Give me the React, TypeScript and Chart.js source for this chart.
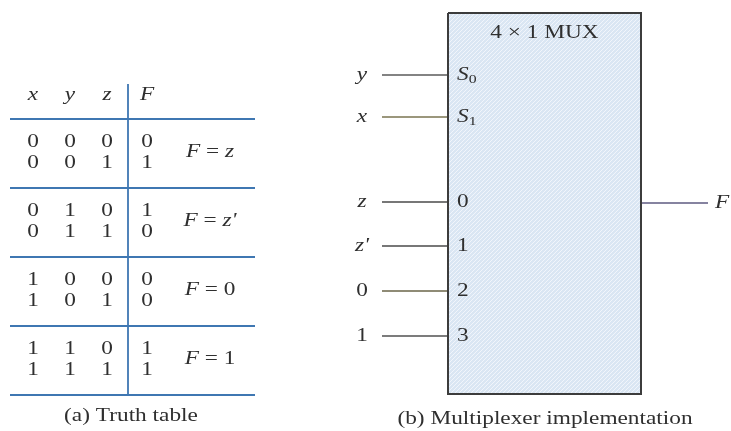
import React, { useEffect, useRef } from "react";
import { Chart, registerables } from "chart.js";

Chart.register(...registerables);

// ---- content ----
const tableHeaders = ["x", "y", "z", "F"];
const truthRows = [
  [0, 0, 0, 0],
  [0, 0, 1, 1],
  [0, 1, 0, 1],
  [0, 1, 1, 0],
  [1, 0, 0, 0],
  [1, 0, 1, 0],
  [1, 1, 0, 1],
  [1, 1, 1, 1],
];
const groupFunctions = ["z", "z'", "0", "1"];
const muxTitle = "4 × 1 MUX";
const selectSignals = ["y", "x"];
const selectPins = ["S0", "S1"];
const dataSignals = ["z", "z'", "0", "1"];
const dataPins = ["0", "1", "2", "3"];
const outputSignal = "F";
const captions = ["(a) Truth table", "(b) Multiplexer implementation"];

// ---- layout (diagram units) ----
const W = 731;
const H = 431;
const colX = [33, 70, 107, 147];
const headerY = 95;
const rowY0 = 142;
const rowGap = 21;
const groupGap = 69;
const hLineY0 = 119;
const hLineX = [10, 255];
const vLineX = 128;
const vLineTop = 84;
const funcX = 210;
const capA = [131, 416];
const box = { x0: 448, x1: 641, y0: 13, y1: 394 };
const titleY = 33;
const selY = [75, 117];
const dataY = [202, 246, 291, 336];
const wireX0 = 382;
const sigX = 362;
const pinX = 457;
const outY = 203;
const outX1 = 708;
const outLabelX = 722;
const capB = [545, 419];

const SX = 1.26;
const BASE = 18.5;
const TEXT = "#2f2f2f";
const BLUE = "#3f77b2";

type Seg = { t: string; it?: boolean; sz?: number; dy?: number };

function fontOf(s: Seg, base: number) {
  return `${s.it ? "italic " : ""}${s.sz ?? base}px "Liberation Serif", "Times New Roman", serif`;
}

function drawRich(
  ctx: CanvasRenderingContext2D,
  segs: Seg[],
  x: number,
  y: number,
  align: "left" | "center" | "right",
  base = BASE
) {
  let w = 0;
  for (const s of segs) {
    ctx.font = fontOf(s, base);
    w += ctx.measureText(s.t).width;
  }
  ctx.save();
  ctx.translate(x, y);
  ctx.scale(SX, 1);
  ctx.textBaseline = "middle";
  ctx.textAlign = "left";
  ctx.fillStyle = TEXT;
  let cx = align === "center" ? -w / 2 : align === "right" ? -w : 0;
  for (const s of segs) {
    ctx.font = fontOf(s, base);
    ctx.fillText(s.t, cx, s.dy ?? 0);
    cx += ctx.measureText(s.t).width;
  }
  ctx.restore();
}

function symSegs(label: string): Seg[] {
  if (/^S\d$/.test(label)) return [{ t: "S", it: true }, { t: label.slice(1), sz: 12.5, dy: 5 }];
  return label.split("").map((c) => ({ t: c, it: /[A-Za-z']/.test(c) }));
}

function seg(x0: number, y0: number, x1: number, y1: number) {
  return [
    { x: x0, y: y0 },
    { x: x1, y: y1 },
  ];
}

const textPlugin = {
  id: "diagramText",
  afterDatasetsDraw(chart: any) {
    const ctx = chart.ctx as CanvasRenderingContext2D;
    const xs = chart.scales.x;
    const ys = chart.scales.y;
    const px = (v: number) => xs.getPixelForValue(v);
    const py = (v: number) => ys.getPixelForValue(v);

    tableHeaders.forEach((h, i) => drawRich(ctx, symSegs(h), px(colX[i]), py(headerY), "center"));
    truthRows.forEach((row, r) => {
      const g = Math.floor(r / 2);
      const y = rowY0 + g * groupGap + (r % 2) * rowGap;
      row.forEach((v, i) => drawRich(ctx, [{ t: String(v) }], px(colX[i]), py(y), "center"));
    });
    groupFunctions.forEach((f, g) => {
      const y = rowY0 + g * groupGap + rowGap / 2;
      drawRich(ctx, [{ t: "F", it: true }, { t: " = " }, ...symSegs(f)], px(funcX), py(y), "center");
    });
    drawRich(ctx, [{ t: captions[0] }], px(capA[0]), py(capA[1]), "center");

    drawRich(ctx, [{ t: muxTitle }], px((box.x0 + box.x1) / 2), py(titleY), "center");
    selectSignals.forEach((s, i) => {
      drawRich(ctx, symSegs(s), px(sigX), py(selY[i]), "center");
      drawRich(ctx, symSegs(selectPins[i]), px(pinX), py(selY[i]), "left");
    });
    dataSignals.forEach((s, i) => {
      drawRich(ctx, symSegs(s), px(sigX), py(dataY[i]), "center");
      drawRich(ctx, [{ t: dataPins[i] }], px(pinX), py(dataY[i]), "left");
    });
    drawRich(ctx, symSegs(outputSignal), px(outLabelX), py(outY), "center");
    drawRich(ctx, [{ t: captions[1] }], px(capB[0]), py(capB[1]), "center");
  },
};

function makePattern(): CanvasPattern | string {
  const c = document.createElement("canvas");
  c.width = 4;
  c.height = 4;
  const g = c.getContext("2d");
  if (!g) return "#e2ebf6";
  g.fillStyle = "#dae6f3";
  g.fillRect(0, 0, 4, 4);
  g.strokeStyle = "#f1f5fb";
  g.lineWidth = 1;
  g.beginPath();
  g.moveTo(0, 4);
  g.lineTo(4, 0);
  g.moveTo(-1, 1);
  g.lineTo(1, -1);
  g.moveTo(3, 5);
  g.lineTo(5, 3);
  g.stroke();
  const p = g.createPattern(c, "repeat");
  return p ?? "#e2ebf6";
}

export default function App() {
  const ref = useRef<HTMLCanvasElement | null>(null);

  useEffect(() => {
    if (!ref.current) return;
    const line = (data: any[], color: string, width = 1.6, order = 1) => ({
      data,
      showLine: true,
      borderColor: color,
      borderWidth: width,
      pointRadius: 0,
      fill: false,
      order,
    });

    const datasets: any[] = [];
    datasets.push({
      data: seg(box.x0, box.y0, box.x1, box.y0),
      showLine: true,
      borderWidth: 0,
      borderColor: "rgba(0,0,0,0)",
      pointRadius: 0,
      fill: { value: box.y1 },
      backgroundColor: makePattern(),
      order: 10,
    });
    datasets.push(
      line(
        [
          { x: box.x0, y: box.y0 },
          { x: box.x1, y: box.y0 },
          { x: box.x1, y: box.y1 },
          { x: box.x0, y: box.y1 },
          { x: box.x0, y: box.y0 },
        ],
        "#3c3c3c",
        2
      )
    );
    const selColors = ["#5a5a5a", "#7a7450"];
    selY.forEach((y, i) => datasets.push(line(seg(wireX0, y, box.x0, y), selColors[i])));
    const dataColors = ["#4a4a4a", "#4a4a4a", "#6a6448", "#505050"];
    dataY.forEach((y, i) => datasets.push(line(seg(wireX0, y, box.x0, y), dataColors[i])));
    datasets.push(line(seg(box.x1, outY, outX1, outY), "#5e5a80"));
    for (let g = 0; g <= groupFunctions.length; g++) {
      const y = hLineY0 + g * groupGap;
      datasets.push(line(seg(hLineX[0], y, hLineX[1], y), BLUE, 1.8));
    }
    datasets.push(line(seg(vLineX, vLineTop, vLineX, hLineY0 + groupFunctions.length * groupGap), BLUE, 1.8));

    const chart = new Chart(ref.current, {
      type: "scatter",
      data: { datasets },
      options: {
        responsive: false,
        animation: false,
        events: [],
        layout: { padding: 0 },
        plugins: { legend: { display: false }, tooltip: { enabled: false } },
        scales: {
          x: { type: "linear", min: 0, max: W, display: false },
          y: { type: "linear", min: 0, max: H, reverse: true, display: false },
        },
      },
      plugins: [textPlugin],
    } as any);
    return () => chart.destroy();
  }, []);

  return (
    <div style={{ position: "absolute", left: 0, top: 0, width: W, height: H, background: "#fff" }}>
      <canvas ref={ref} width={W} height={H} style={{ display: "block", width: W, height: H }} />
    </div>
  );
}
